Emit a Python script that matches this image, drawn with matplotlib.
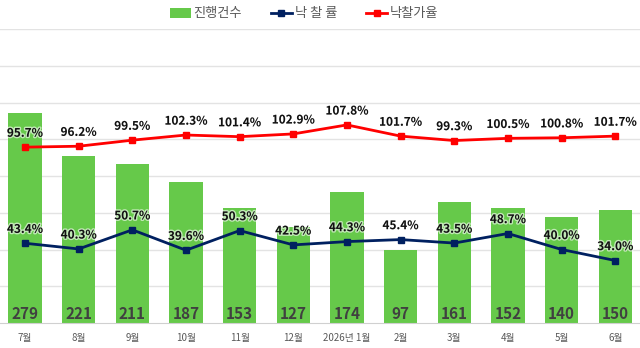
import matplotlib.pyplot as plt
import matplotlib.patheffects as pe
from matplotlib.lines import Line2D
from matplotlib.patches import Patch

plt.rcParams['font.family'] = ['Noto Sans CJK KR', 'DejaVu Sans']

# Data
months = ['7월', '8월', '9월', '10월', '11월', '12월', '2026년 1월',
          '2월', '3월', '4월', '5월', '6월']
counts = [279, 221, 211, 187, 153, 127, 174, 97, 161, 152, 140, 150]
sale_rate = [43.4, 40.3, 50.7, 39.6, 50.3, 42.5, 44.3, 45.4, 43.5, 48.7, 40.0, 34.0]
price_rate = [95.7, 96.2, 99.5, 102.3, 101.4, 102.9, 107.8, 101.7, 99.3, 100.5, 100.8, 101.7]

green = '#66c94a'
navy = '#002060'
red = '#ff0000'

fig = plt.figure(figsize=(6.4, 3.48), dpi=100)
ax = fig.add_axes([0, 25 / 348, 1, 294 / 348])
ax2 = ax.twinx()

x = list(range(len(months)))

# bar axis 0..390, grid drawn here so it sits behind the bars
ax.set_ylim(0, 390)
ax.set_xlim(-0.466, 11.461)
ax.set_yticks([390 * i / 8 for i in range(1, 9)])
ax.grid(axis='y', color='#e3e3e3', linewidth=1, zorder=0)
ax.set_axisbelow(True)

ax.bar(x, counts, width=0.62, color=green, zorder=2)

for xi, c in zip(x, counts):
    ax.text(xi, 12, str(c), ha='center', va='center', fontsize=11,
            fontweight='bold', color='#404040', zorder=3)

ax2.set_ylim(0, 160)
ax2.set_yticks([])
ax2.plot(x, price_rate, color=red, linewidth=2, marker='s', markersize=4.5, zorder=3)
ax2.plot(x, sale_rate, color=navy, linewidth=2, marker='s', markersize=4.5, zorder=3)

halo = [pe.withStroke(linewidth=2, foreground='white', alpha=0.6)]
for series in (price_rate, sale_rate):
    for xi, v in zip(x, series):
        ax2.annotate(f'{v:.1f}%', (xi, v), xytext=(0, 10), textcoords='offset points',
                     ha='center', va='center', fontsize=8.5, fontweight='bold',
                     color='#111111', path_effects=halo, zorder=4)

ax.set_xticks(x)
ax.set_xticklabels(months, fontsize=7, color='#595959')
ax.tick_params(axis='x', length=0, pad=7)
ax.tick_params(axis='y', length=0, labelleft=False)
for a in (ax, ax2):
    for s in ('top', 'left', 'right'):
        a.spines[s].set_visible(False)
ax.spines['bottom'].set_color('#d0d0d0')
ax2.spines['bottom'].set_visible(False)

handles = [
    Patch(facecolor=green, edgecolor='none'),
    Line2D([], [], color=navy, linewidth=2, marker='s', markersize=4),
    Line2D([], [], color=red, linewidth=2, marker='s', markersize=4),
]
fig.legend(handles, ['진행건수', '낙 찰 률', '낙찰가율'], loc='center',
           bbox_to_anchor=(0.475, 1 - 14 / 348), ncol=3, frameon=False,
           fontsize=9.5, labelcolor='#595959', handlelength=1.6,
           handleheight=0.7, handletextpad=0.2, columnspacing=2.2)

fig.savefig('out.png', dpi=100)
